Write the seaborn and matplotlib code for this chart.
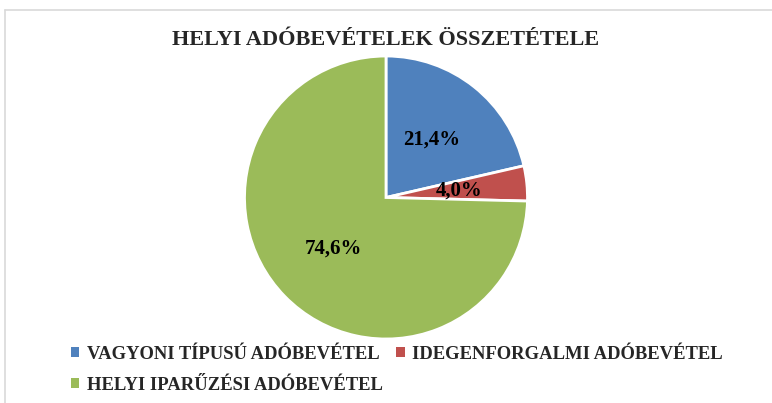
import matplotlib
matplotlib.use("Agg")
import matplotlib.pyplot as plt
import seaborn as sns
from matplotlib.lines import Line2D
from matplotlib.patches import Patch

sns.set_theme(style="white")
plt.rcParams['font.family'] = ['Liberation Serif', 'DejaVu Serif']

title = "HELYI ADÓBEVÉTELEK ÖSSZETÉTELE"
categories = ["VAGYONI TÍPUSÚ ADÓBEVÉTEL", "IDEGENFORGALMI ADÓBEVÉTEL", "HELYI IPARŰZÉSI ADÓBEVÉTEL"]
values = [21.4, 4.0, 74.6]
colors = ["#4F81BD", "#C0504D", "#9BBB59"]

fig = plt.figure(figsize=(7.72, 4.03), dpi=100)
ax = fig.add_axes([0.3167, 0.1588, 0.3666, 0.7022])

wedges, texts, autotexts = ax.pie(
    values, colors=colors, startangle=90, counterclock=False,
    autopct=lambda p: f"{p:.1f}%".replace('.', ','), pctdistance=0.52,
    wedgeprops=dict(edgecolor="white", linewidth=2),
    textprops=dict(fontsize=15, fontweight="bold", color="black"))
ax.set_xlim(-1, 1)
ax.set_ylim(-1, 1)
ax.set_aspect("equal")
ax.axis("off")

fig.text(0.5, 1 - 40/403, title, ha="center", va="center",
         fontsize=16, fontweight="bold")

order = [0, 2, 1]
handles = [Patch(facecolor=colors[i], edgecolor="none") for i in order]
labels = [categories[i] for i in order]
fig.legend(handles, labels, ncol=2, loc="upper left",
           bbox_to_anchor=(54/772, 1 - 329/403), frameon=False,
           prop=dict(size=13.4, weight="bold"), handlelength=0.45, handleheight=0.45,
           handletextpad=0.4, columnspacing=0.75, labelspacing=0.75)

# border
fig.add_artist(Line2D([5/772, 1], [1 - 10/403, 1 - 10/403], color="#D9D9D9", lw=1.2, transform=fig.transFigure))
fig.add_artist(Line2D([5/772, 5/772], [0, 1 - 10/403], color="#D9D9D9", lw=1.2, transform=fig.transFigure))

fig.savefig("out.png", dpi=100, facecolor="white")
